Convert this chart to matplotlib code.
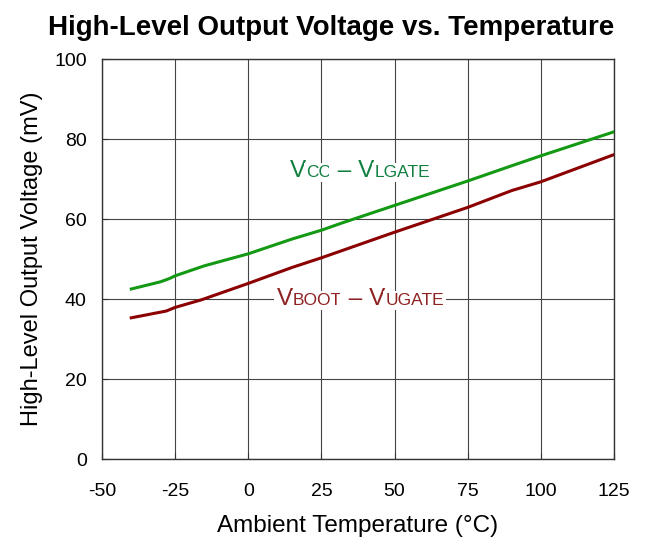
import matplotlib
matplotlib.use('Agg')
import matplotlib.pyplot as plt
import matplotlib.transforms as mtransforms

plt.rcParams['font.family'] = ['Liberation Sans', 'DejaVu Sans']

# Temperature sweep (degC) and output voltages (mV)
temp_lgate = [-40, -35, -30, -27, -25, -15, 0, 15, 25, 32, 50, 75, 90, 100, 125]
v_lgate = [42.5, 43.4, 44.3, 45.1, 45.8, 48.3, 51.3, 55.0, 57.2, 59.0, 63.4, 69.5, 73.3, 75.8, 81.8]

temp_ugate = [-40, -35, -28, -25, -16, 0, 15, 25, 50, 75, 90, 100, 125]
v_ugate = [35.3, 36.0, 37.0, 37.9, 39.8, 43.9, 47.9, 50.3, 56.7, 62.9, 67.1, 69.3, 76.1]

x_ticks = [-50, -25, 0, 25, 50, 75, 100, 125]
y_ticks = [0, 20, 40, 60, 80, 100]

GREEN_LINE = '#139913'
GREEN_TEXT = '#0f8040'
RED_LINE = '#8b0000'
RED_TEXT = '#8e2222'

fig = plt.figure(figsize=(6.52, 5.43), dpi=100)
ax = fig.add_axes([102 / 652, 1 - 459 / 543, 512 / 652, 400 / 543])

ax.plot(temp_lgate, v_lgate, color=GREEN_LINE, linewidth=2.2, zorder=3)
ax.plot(temp_ugate, v_ugate, color=RED_LINE, linewidth=2.2, zorder=3)

ax.set_xlim(-50, 125)
ax.set_ylim(0, 100)
ax.set_xticks(x_ticks)
ax.set_yticks(y_ticks)
ax.set_xticklabels([str(v) for v in x_ticks])
ax.grid(True, color='#444444', linewidth=0.8)
ax.set_axisbelow(True)
ax.tick_params(direction='in', length=4, width=0.8, color='#333333',
               labelsize=14, labelcolor='black')
ax.tick_params(axis='x', pad=17)
ax.tick_params(axis='y', pad=11)
for spine in ax.spines.values():
    spine.set_color('#333333')
    spine.set_linewidth(1.0)

ax.set_xlabel('Ambient Temperature (\u00b0C)', fontsize=17.5, labelpad=11)
ax.set_ylabel('High-Level Output Voltage (mV)', fontsize=17, labelpad=8)

fig.text(331 / 652, 1 - 35 / 543, 'High-Level Output Voltage vs. Temperature',
         ha='center', va='baseline', fontsize=20, fontweight='bold',
         family=['Liberation Sans Narrow', 'Liberation Sans'])


def chain_text(ax, x, y, parts, color):
    # draws text pieces of mixed size along one baseline
    fig.canvas.draw()
    renderer = fig.canvas.get_renderer()
    trans = ax.transData
    for s, size in parts:
        txt = ax.text(x, y, s, transform=trans, fontsize=size, color=color,
                      va='baseline', ha='left', zorder=4,
                      bbox=dict(facecolor='white', edgecolor='none', pad=1.5))
        txt.draw(renderer)
        ex = txt.get_window_extent(renderer)
        trans = mtransforms.offset_copy(txt.get_transform(), fig=fig,
                                        x=ex.width, units='dots')


chain_text(ax, 14.3, 70.6,
           [('V', 17.5), ('CC', 12.5), (' \u2013 V', 17.5), ('LGATE', 12.5)], GREEN_TEXT)
chain_text(ax, 9.7, 38.5,
           [('V', 17.5), ('BOOT', 12.5), (' \u2013 V', 17.5), ('UGATE', 12.5)], RED_TEXT)

fig.savefig('out.png', dpi=100, facecolor='white')
